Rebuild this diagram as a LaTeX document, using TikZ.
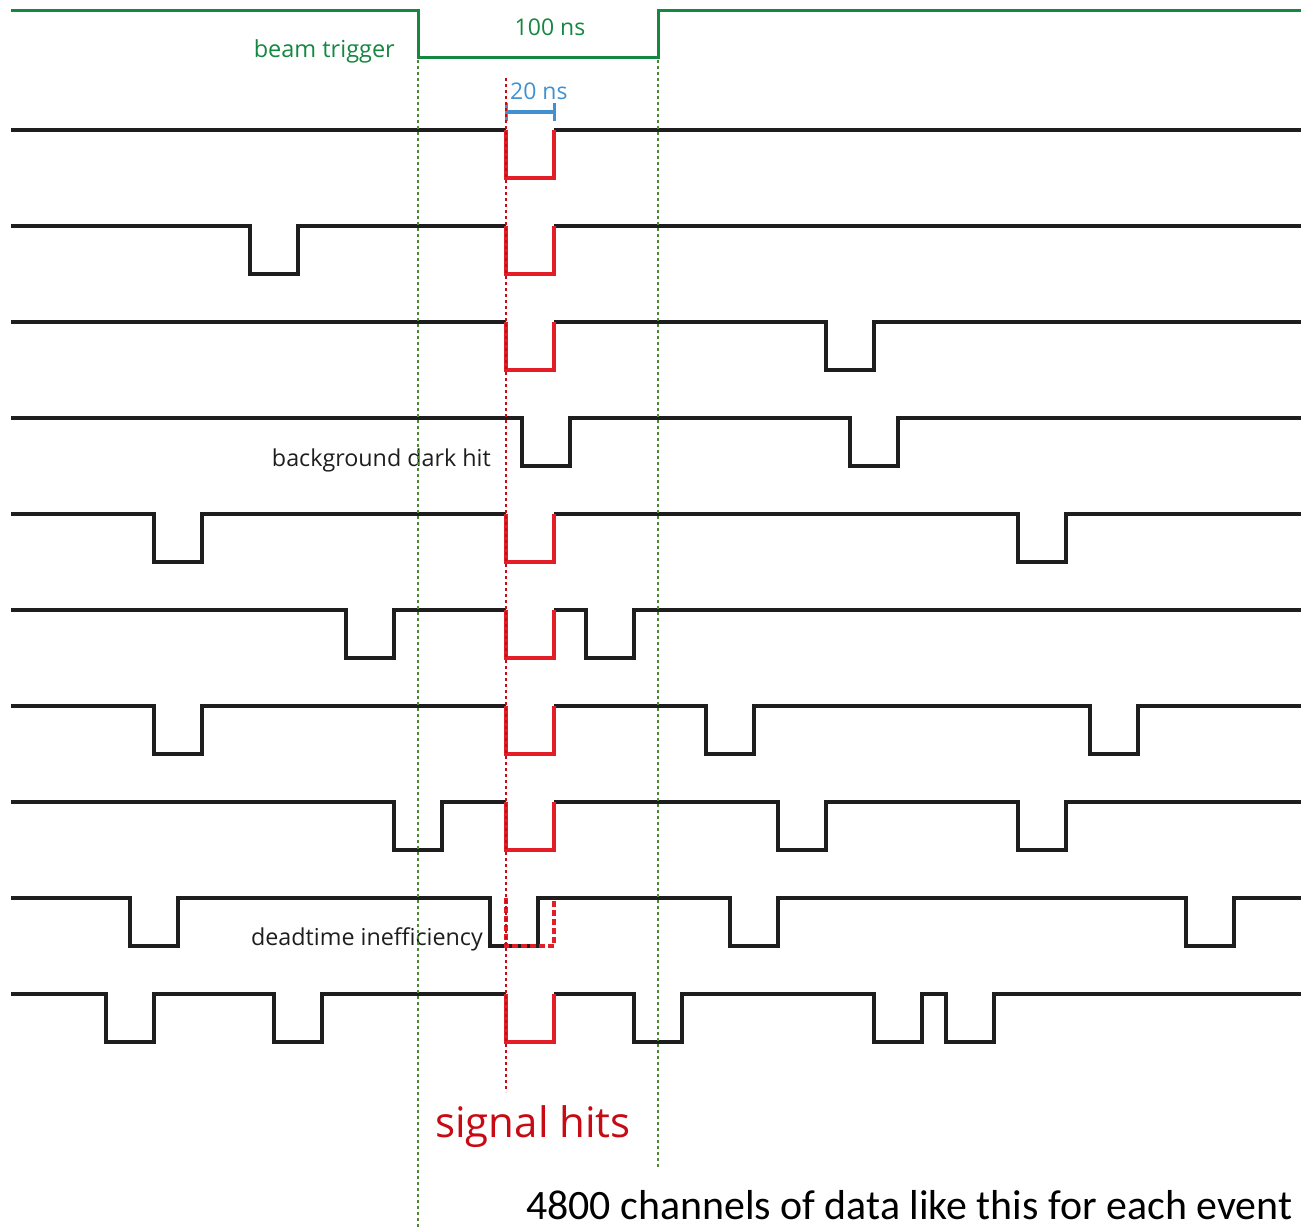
\documentclass[tikz,border=0pt]{standalone}
\usepackage{fontspec}
\setmainfont{Open Sans}
\newfontfamily\carl{Carlito}
\definecolor{trig}{RGB}{20,135,65}
\definecolor{trigdot}{RGB}{80,135,50}
\definecolor{sred}{RGB}{228,30,38}
\definecolor{dred}{RGB}{200,10,20}
\definecolor{sblue}{RGB}{65,145,210}
\definecolor{wave}{RGB}{30,30,30}
\tikzset{
  wv/.style={draw=wave, line width=3.6pt, miter limit=10},
  sig/.style={draw=sred, line width=3.6pt},
  sigdash/.style={draw=sred, line width=3.6pt, dash pattern=on 6pt off 3pt},
  trg/.style={draw=trig, line width=3pt},
  gdot/.style={draw=trigdot, line width=2.6pt, dash pattern=on 3pt off 3pt},
  rdot/.style={draw=dred, line width=2.6pt, dash pattern=on 3pt off 3pt},
  lbl/.style={inner sep=0pt, font=\fontsize{23.3}{27}\selectfont, text=wave},
}
\newcommand\Pl[2]{-- (#1,#2) -- (#1,#2+48) -- (#1+48,#2+48) -- (#1+48,#2)}
\begin{document}
\begin{tikzpicture}[x=1pt,y=-1pt]
\useasboundingbox (0,0) rectangle (1301,1228);
% beam trigger
\draw[trg] (11,11) -- (418,11) -- (418,58) -- (658,58) -- (658,11) -- (1301,11);
\node[inner sep=0pt, anchor=east, text=trig, font=\fontsize{23.5}{27}\selectfont] (bt) at (395,51) {beam trigger};
\node[inner sep=0pt, text=trig, font=\fontsize{23}{27}\selectfont] (hns) at (550,27) {100 ns};
% 20 ns
\draw[draw=sblue, line width=3.5pt] (506,112) -- (554,112);
\draw[draw=sblue, line width=3pt] (506,103) -- (506,121) (554,103) -- (554,121);
\node[inner sep=0pt, anchor=west, text=sblue, font=\fontsize{23}{27}\selectfont] (tns) at (510,91) {20 ns};
% channel 1
\draw[wv] (11,130) -- (506,130) (554,130) -- (1301,130);
\draw[sig] (506,130) -- (506,178) -- (554,178) -- (554,130);
% channel 2
\draw[wv] (11,226) \Pl{250}{226} -- (506,226) (554,226) -- (1301,226);
\draw[sig] (506,226) -- (506,274) -- (554,274) -- (554,226);
% channel 3
\draw[wv] (11,322) -- (506,322) (554,322) \Pl{826}{322} -- (1301,322);
\draw[sig] (506,322) -- (506,370) -- (554,370) -- (554,322);
% channel 4
\draw[wv] (11,418) \Pl{522}{418} \Pl{850}{418} -- (1301,418);
% channel 5
\draw[wv] (11,514) \Pl{154}{514} -- (506,514) (554,514) \Pl{1018}{514} -- (1301,514);
\draw[sig] (506,514) -- (506,562) -- (554,562) -- (554,514);
% channel 6
\draw[wv] (11,610) \Pl{346}{610} -- (506,610) (554,610) \Pl{586}{610} -- (1301,610);
\draw[sig] (506,610) -- (506,658) -- (554,658) -- (554,610);
% channel 7
\draw[wv] (11,706) \Pl{154}{706} -- (506,706) (554,706) \Pl{706}{706} \Pl{1090}{706} -- (1301,706);
\draw[sig] (506,706) -- (506,754) -- (554,754) -- (554,706);
% channel 8
\draw[wv] (11,802) \Pl{394}{802} -- (506,802) (554,802) \Pl{778}{802} \Pl{1018}{802} -- (1301,802);
\draw[sig] (506,802) -- (506,850) -- (554,850) -- (554,802);
% channel 9
\draw[wv] (11,898) \Pl{130}{898} \Pl{490}{898} \Pl{730}{898} \Pl{1186}{898} -- (1301,898);
\draw[sigdash] (506,898) -- (506,946) -- (554,946) -- (554,898);
% channel 10
\draw[wv] (11,994) \Pl{106}{994} \Pl{274}{994} -- (506,994) (554,994) \Pl{634}{994} \Pl{874}{994} \Pl{946}{994} -- (1301,994);
\draw[sig] (506,994) -- (506,1042) -- (554,1042) -- (554,994);
% labels
\node[lbl, anchor=east] (bdh) at (491,460) {background dark hit};
\node[lbl, anchor=east] (dti) at (483,939) {deadtime inefficiency};
% dotted guides
\draw[gdot] (418,60) -- (418,1228);
\draw[gdot] (658,60) -- (658,1168);
\draw[rdot] (506,78) -- (506,1092);
\node[inner sep=0pt, text=dred, font=\fontsize{42}{48}\selectfont] (sh) at (533,1127) {signal hits};
\node[inner sep=0pt, anchor=west, text=black] (ch) at (526,1205) {\resizebox{766pt}{!}{\carl\fontsize{40}{46}\selectfont 4800 channels of data like this for each event}};
\end{tikzpicture}
\end{document}
